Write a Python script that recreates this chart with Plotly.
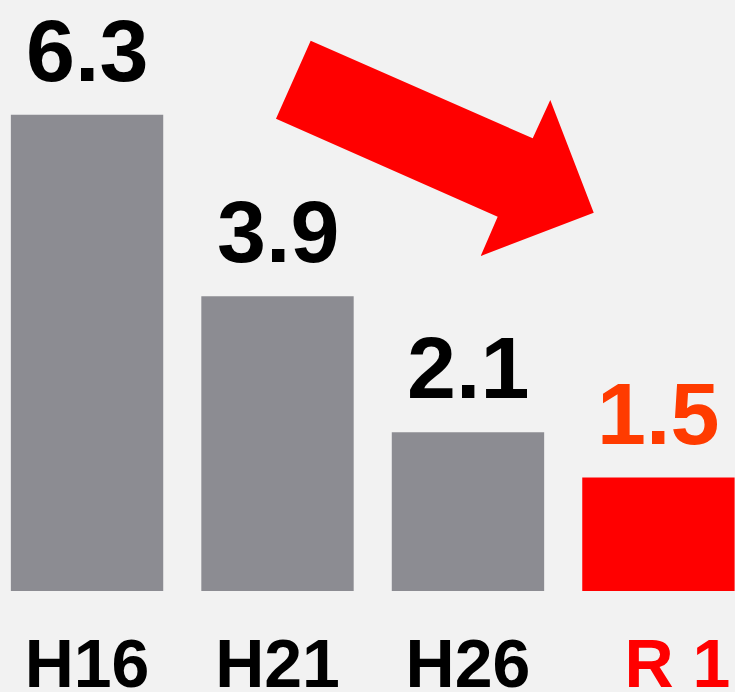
import plotly.graph_objects as go

categories = ["H16", "H21", "H26", "R1"]
values = [6.3, 3.9, 2.1, 1.5]
tick_labels = ["H16", "H21", "H26", "R 1"]

BG = "#f2f2f2"
GRAY = "#8c8c92"
RED = "#ff0000"
ORANGE = "#ff3b00"
FONT = "Liberation Sans, Arial, sans-serif"

bar_colors = [GRAY, GRAY, GRAY, RED]
label_colors = ["#000000", "#000000", "#000000", ORANGE]
tick_colors = ["#000000", "#000000", "#000000", RED]

fig = go.Figure()
fig.add_trace(
    go.Bar(
        x=list(range(len(categories))),
        y=values,
        width=0.8,
        marker={"color": bar_colors, "line": {"width": 0}},
        hoverinfo="skip",
    )
)

# value labels above bars
for i, (v, c) in enumerate(zip(values, label_colors)):
    fig.add_annotation(
        x=i,
        y=v,
        text=f"<b>{v:.1f}</b>",
        showarrow=False,
        yanchor="bottom",
        yshift=13,
        font={"family": FONT, "size": 88, "color": c},
    )

# big red trend arrow (pixel positions converted to paper coords)
W, H = 735, 692
plot_h = 591
pts = [
    (310.7, 40.7),
    (532.7, 138.3),
    (550.3, 100.0),
    (593.7, 212.7),
    (480.7, 256.0),
    (497.7, 216.7),
    (276.0, 118.7),
]
path = "M " + " L ".join(
    f"{px / W:.4f},{(plot_h - py) / plot_h:.4f}" for px, py in pts
) + " Z"
fig.add_shape(
    type="path",
    xref="paper",
    yref="paper",
    path=path,
    fillcolor=RED,
    line={"width": 0},
    layer="above",
)

ticktext = []
for i, (t, c) in enumerate(zip(tick_labels, tick_colors)):
    pad = "&nbsp;&nbsp;" if i == len(tick_labels) - 1 else ""
    ticktext.append(f"<span style='color:{c}'><b>{pad}{t}</b></span>")

fig.update_layout(
    width=W,
    height=H,
    margin={"l": 0, "r": 0, "t": 0, "b": H - plot_h},
    paper_bgcolor=BG,
    plot_bgcolor=BG,
    showlegend=False,
)
fig.update_xaxes(
    range=[-0.457, 3.402],
    tickmode="array",
    tickvals=list(range(len(categories))),
    ticktext=ticktext,
    tickfont={"family": FONT, "size": 68, "color": "#000000"},
    showgrid=False,
    zeroline=False,
    showline=False,
    ticks="",
    ticklabelstandoff=27,
    automargin=False,
)
fig.update_yaxes(
    range=[0, plot_h / 75.6],
    visible=False,
    showgrid=False,
    zeroline=False,
    automargin=False,
)

fig.write_html(
    "out.html",
    config={"displayModeBar": False},
    post_script="document.body.style.margin='0';document.body.style.overflow='hidden';",
)
